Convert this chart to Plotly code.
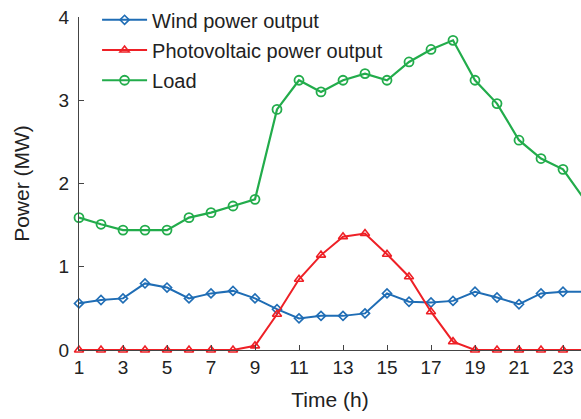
import plotly.graph_objects as go

hours = list(range(1, 25))
wind = [0.56, 0.60, 0.62, 0.80, 0.75, 0.62, 0.68, 0.71, 0.62, 0.49, 0.38, 0.41,
        0.41, 0.44, 0.68, 0.58, 0.57, 0.59, 0.70, 0.63, 0.55, 0.68, 0.70, 0.70]
pv = [0, 0, 0, 0, 0, 0, 0, 0, 0.05, 0.43, 0.85, 1.14,
      1.36, 1.40, 1.15, 0.88, 0.46, 0.10, 0, 0, 0, 0, 0, 0]
load = [1.59, 1.51, 1.44, 1.44, 1.44, 1.59, 1.65, 1.73, 1.81, 2.89, 3.24, 3.10,
        3.24, 3.32, 3.24, 3.46, 3.61, 3.72, 3.24, 2.96, 2.52, 2.30, 2.17, 1.80]
x_ticks = list(range(1, 24, 2))
y_ticks = [0, 1, 2, 3, 4]

BLUE = "#1f6db5"
RED = "#ee2026"
GREEN = "#22ac4b"

fig = go.Figure()
fig.add_trace(go.Scatter(x=hours, y=wind, name="Wind power output", mode="lines+markers",
                         legendgroup="a", cliponaxis=False,
                         line=dict(color=BLUE, width=2),
                         marker=dict(symbol="diamond-open", size=7, color=BLUE, line=dict(width=1.6))))
fig.add_trace(go.Scatter(x=hours, y=pv, name="Photovoltaic power output", mode="lines+markers",
                         legendgroup="b", cliponaxis=False,
                         line=dict(color=RED, width=2),
                         marker=dict(symbol="triangle-up-open", size=8, color=RED, line=dict(width=1.6))))
fig.add_trace(go.Scatter(x=hours, y=load, name="Load", mode="lines+markers",
                         legendgroup="c", cliponaxis=False,
                         line=dict(color=GREEN, width=2.2),
                         marker=dict(symbol="circle-open", size=9, color=GREEN, line=dict(width=1.8))))

font = "Liberation Sans, Arial, Helvetica, sans-serif"
fig.update_layout(
    width=581, height=419,
    margin=dict(l=79, r=0, t=13, b=69),
    paper_bgcolor="white", plot_bgcolor="white",
    font=dict(family=font, size=18, color="#222222"),
    showlegend=True,
    legend=dict(x=0.036, y=1.05, xanchor="left", yanchor="top",
                bgcolor="rgba(0,0,0,0)", font=dict(size=20, color="#222222"),
                traceorder="grouped", tracegroupgap=1.2, itemwidth=45),
    xaxis=dict(range=[1, 1 + (581 - 79) / 22.0], tickvals=x_ticks, automargin=False,
               ticks="inside", ticklen=5, tickcolor="#444", showline=True, linecolor="#444",
               linewidth=1, showgrid=False, zeroline=False,
               title=dict(text="Time (h)", font=dict(size=21), standoff=15),
               tickfont=dict(size=19)),
    yaxis=dict(range=[0, 4], tickvals=y_ticks, automargin=False,
               ticks="inside", ticklen=5, tickcolor="#444", showline=True, linecolor="#444",
               linewidth=1, showgrid=False, zeroline=False, ticklabelstandoff=5,
               title=dict(text="Power (MW)", font=dict(size=21), standoff=23),
               tickfont=dict(size=19)),
)
fig.write_html("out.html", config={"displayModeBar": False},
               post_script="document.body.style.margin='0px';")
